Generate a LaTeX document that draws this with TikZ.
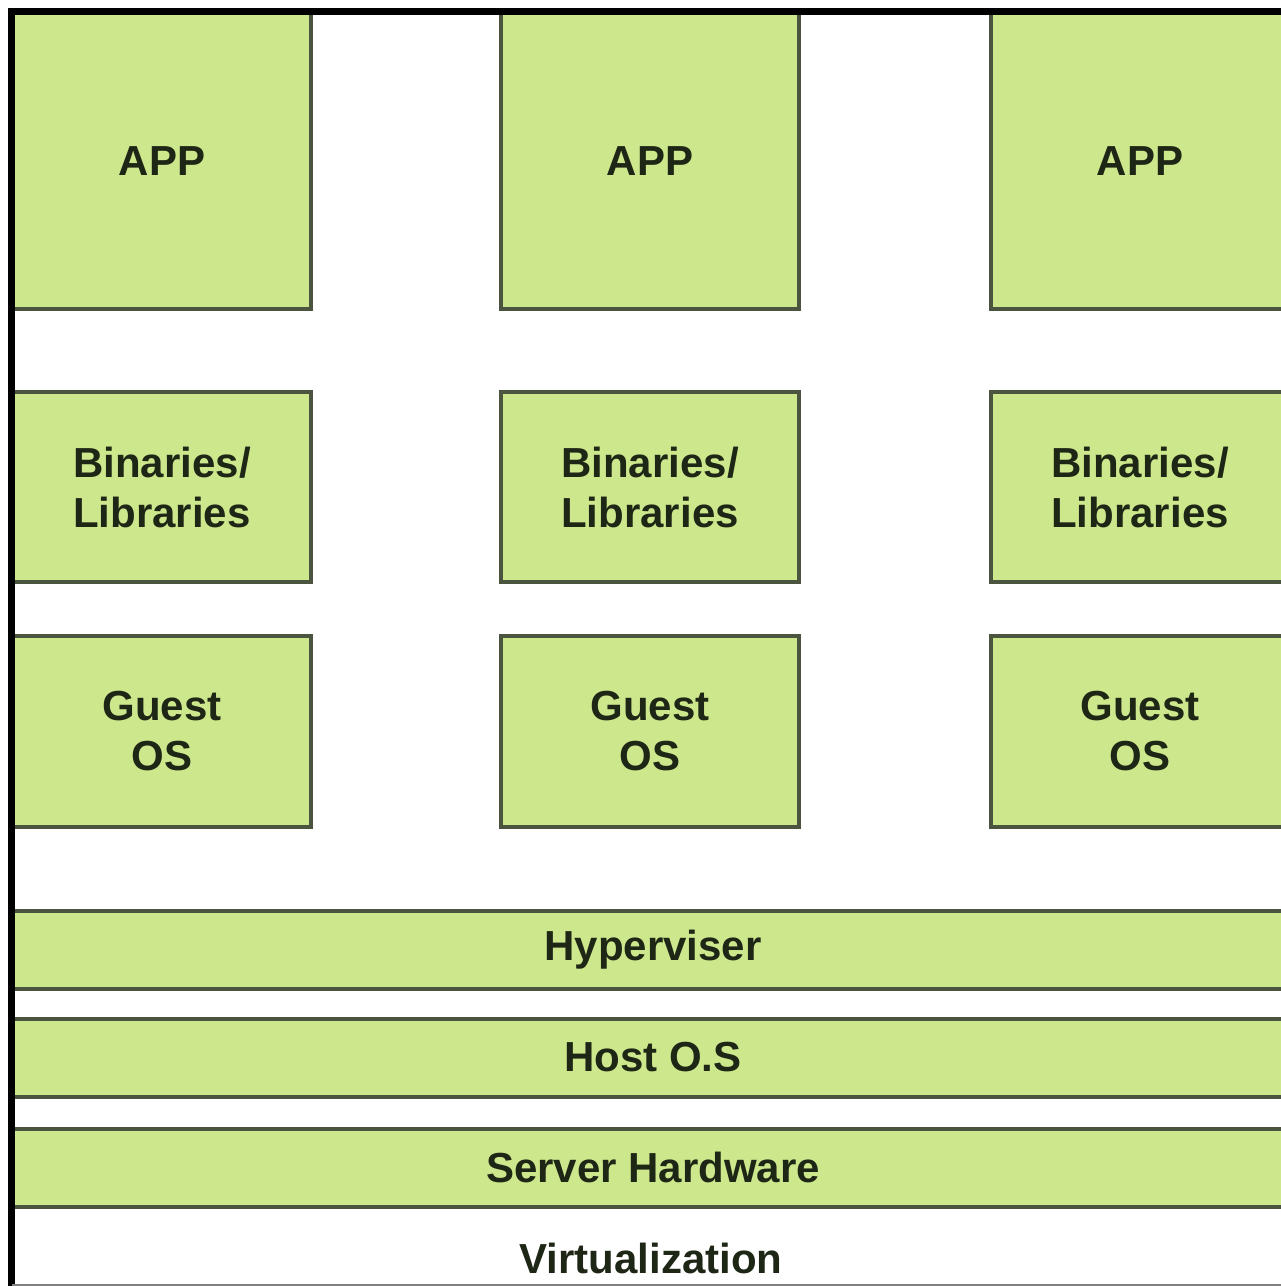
\documentclass[tikz,border=0pt]{standalone}
\usepackage{fontspec}
\setmainfont{Liberation Sans}
\definecolor{layerfill}{RGB}{205,232,140}
\definecolor{layeredge}{RGB}{74,84,62}
\definecolor{labelink}{RGB}{30,38,22}
\begin{document}
\begin{tikzpicture}[x=1pt,y=-1pt,
  layer/.style={draw=layeredge, line width=4pt, fill=layerfill, inner sep=0pt,
    text=labelink, font=\fontsize{42}{50}\selectfont\bfseries, align=center},
  vmbox/.style={layer, minimum width=298pt},
  bar/.style={layer, minimum width=1282pt, minimum height=78pt},
  caption/.style={text=labelink, font=\fontsize{42}{50}\selectfont\bfseries}]
\useasboundingbox (0,0) rectangle (1281,1286);
\clip (0,0) rectangle (1281,1286);
\fill[white] (0,0) rectangle (1281,1286);

% three virtual machine stacks
\foreach \c/\x in {a/162, b/650, c/1140}{
  \node[vmbox, minimum height=296pt] (app\c) at (\x,161) {APP};
  \node[vmbox, minimum height=190pt] (bin\c) at (\x,487) {Binaries/\\Libraries};
  \node[vmbox, minimum height=191pt] (os\c)  at (\x,731.5) {Guest\\OS};
}

% shared layers underneath
\node[bar] (hyp)  at (653,950)    {Hyperviser};
\node[bar] (host) at (653,1057.5) {Host O.S};
\node[bar] (hw)   at (653,1167.5) {Server Hardware};
\node[caption] (virt) at (651,1258) {Virtualization};

% outer frame
\draw[black, line width=7pt] (8,11.5) -- (1281,11.5);
\draw[black, line width=7pt] (11.5,8) -- (11.5,1286);
\draw[gray, line width=2pt] (12,1285) -- (1281,1285);
\end{tikzpicture}
\end{document}
